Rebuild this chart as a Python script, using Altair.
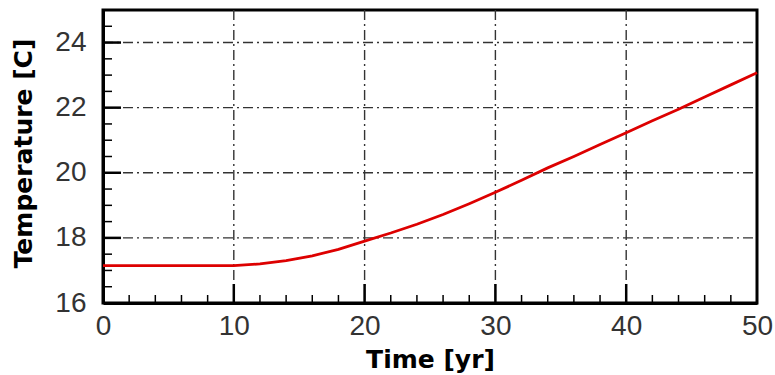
import altair as alt
import pandas as pd

# Curve data
time_yr = [0, 2, 4, 6, 8, 10, 12, 14, 16, 18, 20, 22, 24, 26, 28, 30, 32, 34, 36, 38, 40, 42, 44, 46, 48, 50]
temperature = [17.15, 17.15, 17.15, 17.15, 17.15, 17.15, 17.2, 17.3, 17.45, 17.65, 17.9, 18.15, 18.42,
               18.72, 19.05, 19.4, 19.77, 20.15, 20.5, 20.87, 21.23, 21.6, 21.95, 22.33, 22.7, 23.07]

x_labels = [0, 10, 20, 30, 40, 50]
y_labels = [16, 18, 20, 22, 24]
x_grid = [10, 20, 30, 40]
y_grid = [18, 20, 22, 24]
x_minor = [2, 4, 6, 8, 12, 14, 16, 18, 22, 24, 26, 28, 32, 34, 36, 38, 42, 44, 46, 48]
y_minor = [16.5, 17, 17.5, 18.5, 19, 19.5, 20.5, 21, 21.5, 22.5, 23, 23.5, 24.5]

W, H = 654, 293

df = pd.DataFrame({"t": time_yr, "T": temperature})
xs = alt.Scale(domain=[0, 50], nice=False, zero=False)
ys = alt.Scale(domain=[16, 25], nice=False, zero=False)

xaxis = alt.Axis(values=x_labels, grid=False, ticks=False, labelPadding=9, labelFlush=False,
                 titleX=W / 2, titleY=64, titleBaseline="alphabetic")
yaxis = alt.Axis(values=y_labels, grid=False, ticks=False, labelPadding=17, labelFlush=False,
                 titleX=-72, titleY=143, titleBaseline="alphabetic", titleAngle=270)


def X(field):
    return alt.X(field, scale=xs, title="Time [yr]", axis=xaxis)


def Y(field):
    return alt.Y(field, scale=ys, title="Temperature [C]", axis=yaxis)


grid_style = dict(color="#333333", strokeWidth=1.4, strokeDash=[10, 4, 2, 4])

vgrid = alt.Chart(pd.DataFrame({"t": x_grid})).mark_rule(**grid_style).encode(
    x=X("t:Q"), y=alt.value(0), y2=alt.value(H))
hgrid = alt.Chart(pd.DataFrame({"T": y_grid})).mark_rule(**grid_style).encode(
    y=Y("T:Q"), x=alt.value(0), x2=alt.value(W))

line = alt.Chart(df).mark_line(color="#dd0000", strokeWidth=2.8).encode(
    x=X("t:Q"), y=Y("T:Q"))

xmaj = alt.Chart(pd.DataFrame({"t": x_grid})).mark_rule(color="black", strokeWidth=2.5).encode(
    x=X("t:Q"), y=alt.value(H), y2=alt.value(H - 19))
xmin = alt.Chart(pd.DataFrame({"t": x_minor})).mark_rule(color="black", strokeWidth=1.5).encode(
    x=X("t:Q"), y=alt.value(H), y2=alt.value(H - 8))
ymaj = alt.Chart(pd.DataFrame({"T": y_grid})).mark_rule(color="black", strokeWidth=2.5).encode(
    y=Y("T:Q"), x=alt.value(0), x2=alt.value(18))
ymin = alt.Chart(pd.DataFrame({"T": y_minor})).mark_rule(color="black", strokeWidth=1.5).encode(
    y=Y("T:Q"), x=alt.value(0), x2=alt.value(9))

chart = alt.layer(vgrid, hgrid, line, xmaj, xmin, ymaj, ymin).properties(
    width=W, height=H,
    autosize=alt.AutoSizeParams(type="none"),
    padding={"left": 103, "top": 10, "right": 18, "bottom": 72},
    background="white",
).configure_view(
    stroke="black", strokeWidth=3
).configure_axis(
    labelFont="Liberation Sans", labelFontSize=28, labelColor="#333", labelFontWeight="normal",
    titleFont="DejaVu Sans", titleFontSize=25, titleFontWeight="bold", titleColor="black",
    domain=True, domainColor="black", domainWidth=3,
)

chart.save("out.html", embed_options={"renderer": "svg", "actions": False})
